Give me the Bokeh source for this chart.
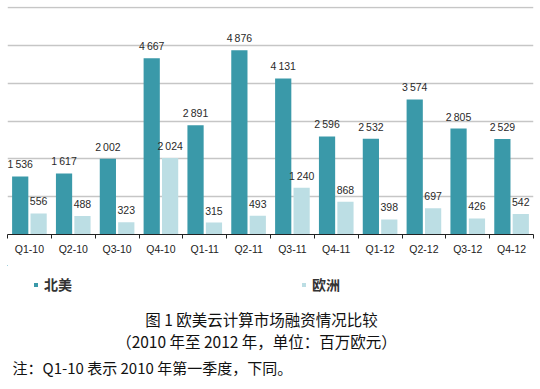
from bokeh.plotting import figure
from bokeh.layouts import column
from bokeh.core.properties import value
from bokeh.models import (ColumnDataSource, FixedTicker, LabelSet, Label, Legend, LegendItem, Range1d)
from bokeh.transform import dodge
from bokeh.embed import file_html
from bokeh.resources import INLINE

quarters = ["Q1-10", "Q2-10", "Q3-10", "Q4-10", "Q1-11", "Q2-11",
            "Q3-11", "Q4-11", "Q1-12", "Q2-12", "Q3-12", "Q4-12"]
north_america = [1536, 1617, 2002, 4667, 2891, 4876, 4131, 2596, 2532, 3574, 2805, 2529]
europe = [556, 488, 323, 2024, 315, 493, 1240, 868, 398, 697, 426, 542]
series_names = ["北美", "欧洲"]
grid_values = [1000, 2000, 3000, 4000, 5000, 6000]

TEAL = "#3a99a9"
LIGHT = "#bcdee4"
LABEL_FONT = "Liberation Sans"
CJK = "Noto Sans CJK SC"


def fmt(v):
    return "{:,}".format(v).replace(",", "\u2009")


pos = [i + 0.5 for i in range(len(quarters))]
src = ColumnDataSource(dict(
    pos=pos, q=quarters, na=north_america, eu=europe,
    na_txt=[fmt(v) for v in north_america], eu_txt=[fmt(v) for v in europe],
))

# ---------------- chart ----------------
p = figure(width=540, height=265, output_backend="svg", toolbar_location=None,
           x_range=Range1d(0, len(quarters)), y_range=Range1d(0, 6035),
           y_axis_location=None, min_border_left=7, min_border_right=7,
           min_border_top=6, min_border_bottom=31)
p.outline_line_color = None
p.background_fill_color = "white"
p.border_fill_color = "white"

p.vbar(x=dodge("pos", -0.21), top="na", width=0.37, source=src,
       fill_color=TEAL, line_color=None)
p.vbar(x=dodge("pos", 0.21), top="eu", width=0.37, source=src,
       fill_color=LIGHT, line_color=None)

for col, txt, off in (("na", "na_txt", -0.21), ("eu", "eu_txt", 0.21)):
    p.add_layout(LabelSet(x=dodge("pos", off), y=col, text=txt, source=src,
                          y_offset=8, text_align="center", text_baseline="alphabetic",
                          text_font=value(LABEL_FONT), text_font_size=value("10.5px"),
                          text_color="#2a2a2a"))

p.xgrid.visible = False
p.ygrid.ticker = FixedTicker(ticks=grid_values)
p.ygrid.grid_line_color = "#c6c6c6"
p.ygrid.grid_line_width = 1.5

ax = p.xaxis[0]
ax.ticker = FixedTicker(ticks=pos, minor_ticks=list(range(len(quarters) + 1)))
ax.major_label_overrides = {pv: q for pv, q in zip(pos, quarters)}
ax.major_tick_line_color = None
ax.major_tick_out = 0
ax.major_tick_in = 0
ax.minor_tick_line_color = "#222222"
ax.minor_tick_out = 4
ax.minor_tick_in = 0
ax.axis_line_color = "#222222"
ax.axis_line_width = 1
ax.major_label_standoff = 4
ax.major_label_text_font = LABEL_FONT
ax.major_label_text_font_size = "10.5px"
ax.major_label_text_color = "#222222"

# ---------------- legend + captions ----------------
q = figure(width=540, height=124, output_backend="svg", toolbar_location=None,
           x_range=Range1d(50, 50 + len(quarters)), y_range=Range1d(-2, -1),
           x_axis_location=None, y_axis_location=None,
           min_border_left=0, min_border_right=0, min_border_top=0, min_border_bottom=0)
q.outline_line_color = None
q.grid.visible = False
q.border_fill_color = "white"

# legend keys: same series, lying outside this panel's visible range
k_na = q.vbar(x="pos", top="na", width=0.37, source=src, fill_color=TEAL, line_color=None)
k_eu = q.vbar(x="pos", top="eu", width=0.37, source=src, fill_color=LIGHT, line_color=None)

legend = Legend(items=[LegendItem(label=series_names[0], renderers=[k_na]),
                       LegendItem(label=series_names[1], renderers=[k_eu])],
                location=(26, 95), orientation="horizontal", spacing=229,
                glyph_width=5, glyph_height=5, label_standoff=6,
                label_text_font=CJK, label_text_font_size="14px",
                label_text_font_style="bold", label_text_color="#333333",
                border_line_color=None, background_fill_alpha=0,
                padding=0, margin=0)
q.add_layout(legend, "center")

cap1 = Label(x=254, y=71, x_units="screen", y_units="screen",
             text="图 1 欧美云计算市场融资情况比较", text_align="center",
             text_baseline="middle", text_font=CJK, text_font_size="15.5px",
             text_color="#111111")
cap2 = Label(x=249, y=49, x_units="screen", y_units="screen",
             text="（2010 年至 2012 年，单位：百万欧元）", text_align="center",
             text_baseline="middle", text_font=CJK, text_font_size="15.5px",
             text_color="#111111")
note = Label(x=5, y=22, x_units="screen", y_units="screen",
             text="注：Q1-10 表示 2010 年第一季度，下同。", text_align="left",
             text_baseline="middle", text_font=CJK, text_font_size="15px",
             text_color="#111111")
for lb in (cap1, cap2, note):
    q.add_layout(lb)

layout = column(p, q, spacing=0)
open("out.html", "w").write(file_html(layout, INLINE))
